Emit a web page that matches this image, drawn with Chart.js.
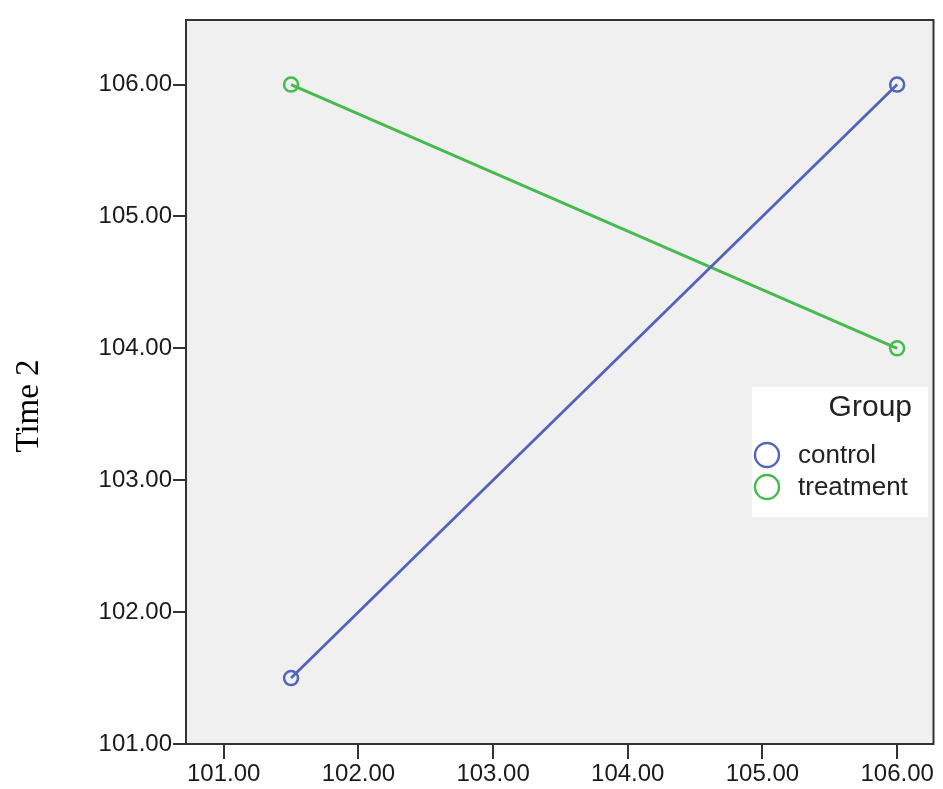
<!DOCTYPE html>
<html lang="en">
<head>
    <meta charset="UTF-8">
    <title>Time 2 by group</title>
    <script src="https://cdn.jsdelivr.net/npm/chart.js"></script>
    <style>
        body { margin: 0; background: #fff; }
        canvas { display: block; }
    </style>
</head>
<body>
    <canvas id="grafico" width="943" height="789"></canvas>

<script>
    // dados
    const grupos = ['control', 'treatment'];
    const tempo1Control = [101.5, 106.0];
    const tempo2Control = [101.5, 106.0];
    const tempo1Treatment = [101.5, 106.0];
    const tempo2Treatment = [106.0, 104.0];
    const ticksX = [101, 102, 103, 104, 105, 106];
    const ticksY = [101, 102, 103, 104, 105, 106];
    const tituloY = 'Time 2';
    const tituloLegenda = 'Group';

    const cores = ['#5463ba', '#45bb4e'];

    function pontos(xs, ys) {
        return xs.map(function (x, i) { return { x: x, y: ys[i] }; });
    }

    const series = [pontos(tempo1Control, tempo2Control), pontos(tempo1Treatment, tempo2Treatment)];

    const dados = {
        datasets: grupos.map(function (g, i) {
            return {
                label: g,
                data: series[i],
                showLine: true,
                borderColor: cores[i],
                borderWidth: 2.8,
                pointRadius: 7,
                pointBorderWidth: 2.5,
                pointBackgroundColor: 'rgba(0,0,0,0)',
                pointBorderColor: cores[i]
            };
        })
    };

    // fundo cinza + moldura da area do grafico + titulo do eixo y
    const fundoPlugin = {
        id: 'fundo',
        beforeDraw: function (chart) {
            const a = chart.chartArea;
            const ctx = chart.ctx;
            ctx.save();
            ctx.fillStyle = '#f0f0f0';
            ctx.fillRect(a.left, a.top, a.right - a.left, a.bottom - a.top);
            ctx.restore();
        },
        afterDraw: function (chart) {
            const a = chart.chartArea;
            const ctx = chart.ctx;
            ctx.save();
            ctx.strokeStyle = '#333';
            ctx.lineWidth = 2;
            ctx.strokeRect(a.left, a.top, a.right - a.left, a.bottom - a.top);

            ctx.translate(38, 406);
            ctx.rotate(-Math.PI / 2);
            ctx.fillStyle = '#000';
            ctx.font = '33px "Liberation Serif", "Times New Roman", serif';
            ctx.textAlign = 'center';
            ctx.textBaseline = 'alphabetic';
            ctx.fillText(tituloY, 0, 0);
            ctx.restore();
        }
    };

    // legenda dentro da area, como no SPSS
    const legendaPlugin = {
        id: 'legendaGrupo',
        afterDraw: function (chart) {
            const ctx = chart.ctx;
            const x0 = 752, y0 = 387, w = 176, h = 130;
            ctx.save();
            ctx.fillStyle = '#ffffff';
            ctx.fillRect(x0, y0, w, h);
            ctx.fillStyle = '#222';
            ctx.font = '30px "Liberation Sans", Arial, sans-serif';
            ctx.textAlign = 'right';
            ctx.textBaseline = 'middle';
            ctx.fillText(tituloLegenda, 912, 408);
            ctx.textAlign = 'left';
            ctx.font = '26px "Liberation Sans", Arial, sans-serif';
            chart.data.datasets.forEach(function (ds, i) {
                const cy = 455 + i * 32;
                ctx.beginPath();
                ctx.arc(767, cy, 12, 0, Math.PI * 2);
                ctx.strokeStyle = ds.borderColor;
                ctx.lineWidth = 2.4;
                ctx.stroke();
                ctx.fillStyle = '#222';
                ctx.fillText(ds.label, 798, cy + 1);
            });
            ctx.restore();
        }
    };

    const fonteTicks = { family: '"Liberation Sans", Arial, sans-serif', size: 24 };

    const config = {
        type: 'scatter',
        data: dados,
        options: {
            responsive: false,
            animation: false,
            layout: { padding: { top: 20, right: 1, left: 0, bottom: 0 } },
            plugins: {
                legend: { display: false },
                tooltip: { enabled: false }
            },
            scales: {
                x: {
                    type: 'linear',
                    min: 100.72,
                    max: 106.27,
                    afterBuildTicks: function (scale) {
                        scale.ticks = ticksX.map(function (v) { return { value: v }; });
                    },
                    afterFit: function (scale) {
                        scale.height = 45;
                    },
                    grid: { drawOnChartArea: false, drawTicks: true, tickLength: 15, tickColor: '#333', lineWidth: 2 },
                    border: { display: false },
                    ticks: {
                        color: '#1a1a1a',
                        font: fonteTicks,
                        padding: 1,
                        maxRotation: 0,
                        callback: function (v) { return Number(v).toFixed(2); }
                    }
                },
                y: {
                    type: 'linear',
                    min: 101,
                    max: 106.49,
                    afterBuildTicks: function (scale) {
                        scale.ticks = ticksY.map(function (v) { return { value: v }; });
                    },
                    afterFit: function (scale) { scale.width = 186; },
                    grid: { drawOnChartArea: false, drawTicks: true, tickLength: 13, tickColor: '#333', lineWidth: 2 },
                    border: { display: false },
                    ticks: {
                        color: '#1a1a1a',
                        font: fonteTicks,
                        padding: 1,
                        callback: function (v) { return Number(v).toFixed(2); }
                    }
                }
            }
        },
        plugins: [fundoPlugin, legendaPlugin]
    };

    new Chart(document.getElementById('grafico'), config);
</script>
</body>
</html>
